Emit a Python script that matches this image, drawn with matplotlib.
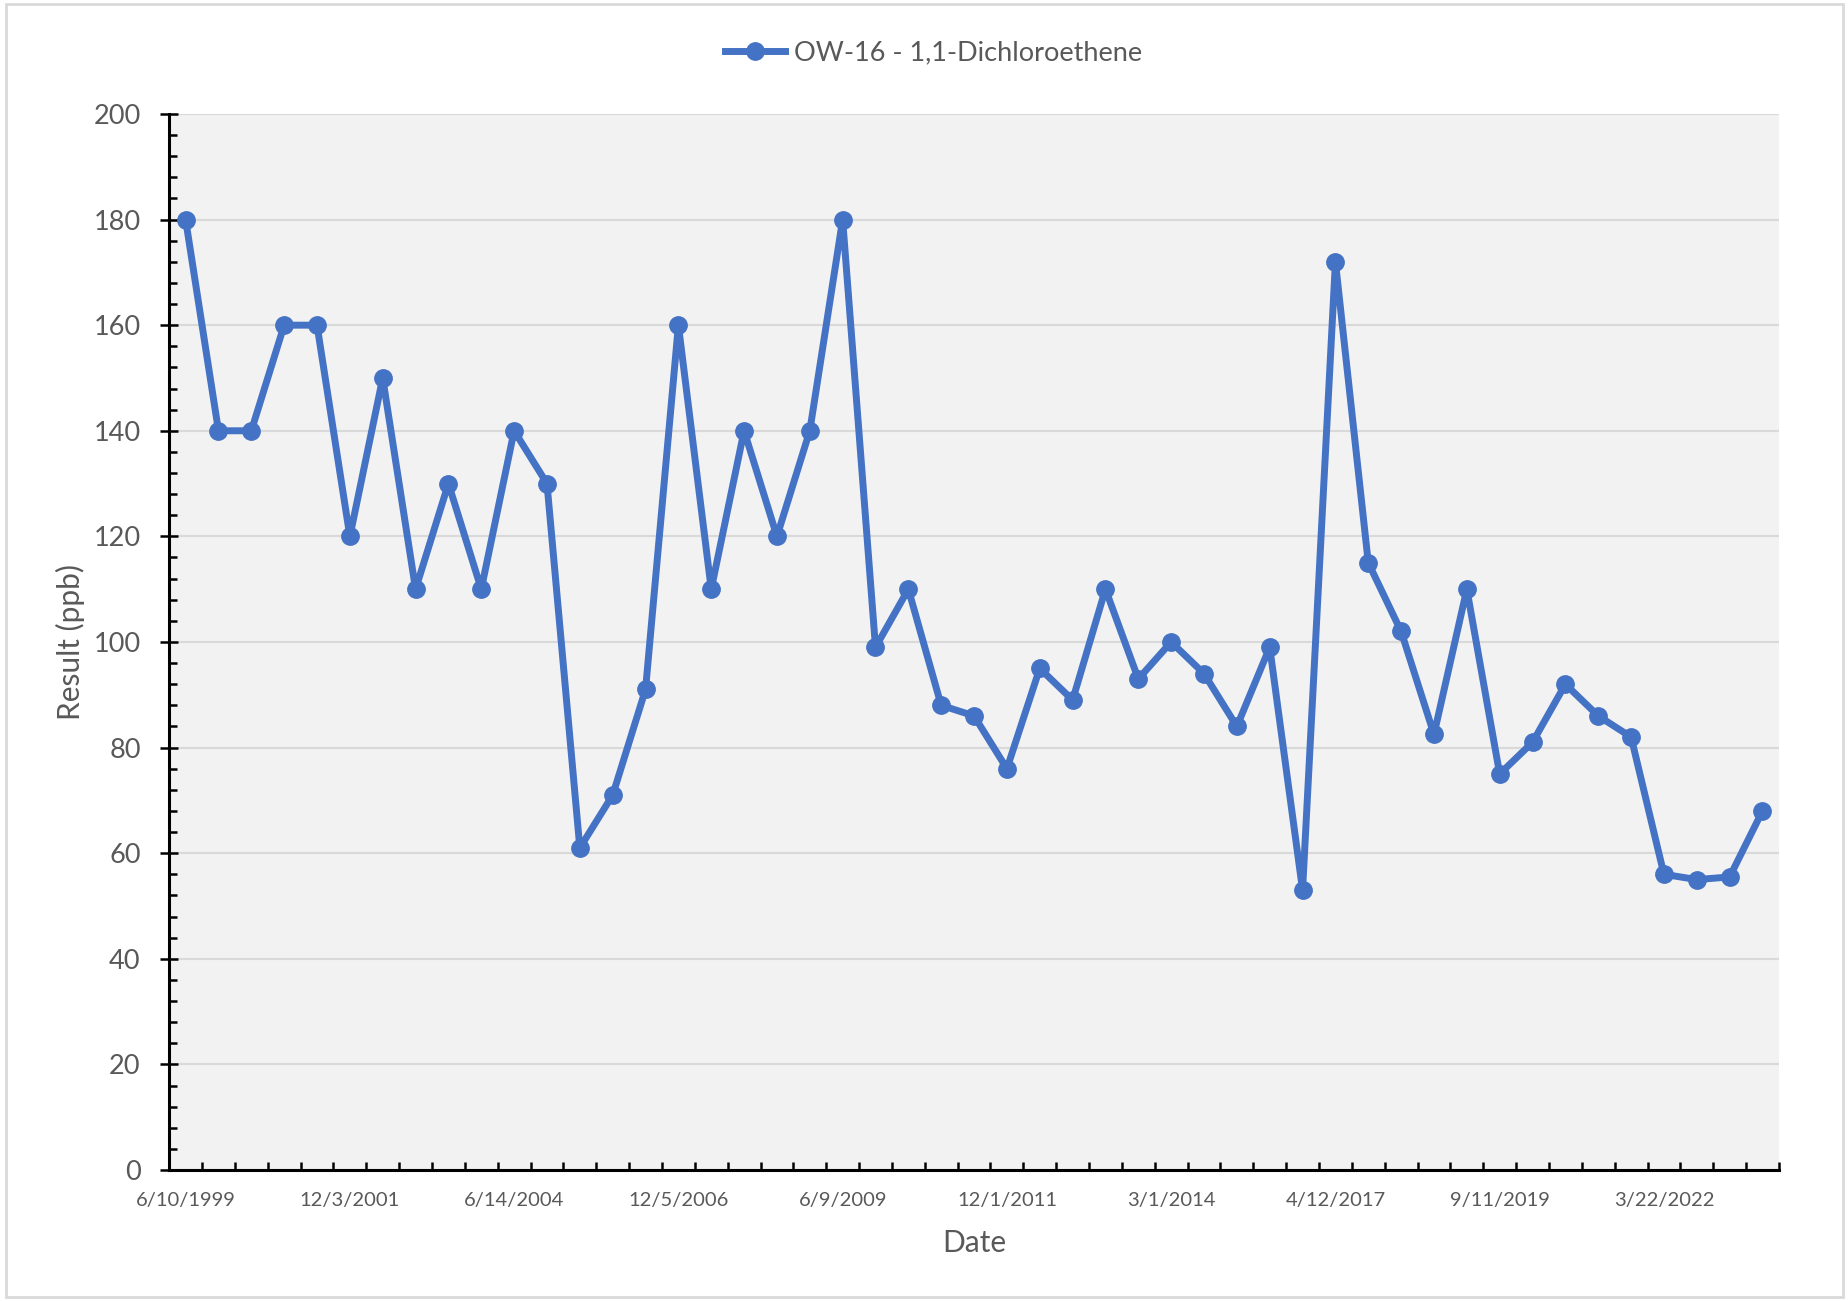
import numpy as np
import matplotlib
import matplotlib.pyplot as plt
from matplotlib.ticker import MultipleLocator, FixedLocator, NullFormatter
from matplotlib.patches import Rectangle

matplotlib.use("Agg")

plt.rcParams.update({
    "font.family": ["Lato", "DejaVu Sans"],
    "text.color": "#595959",
    "axes.labelcolor": "#595959",
    "xtick.color": "black",
    "ytick.color": "black",
    "xtick.labelcolor": "#595959",
    "ytick.labelcolor": "#595959",
})

# Sample results (ppb), one per sampling event, equally spaced in Excel category style
results = [180, 140, 140, 160, 160, 120, 150, 110, 130, 110,
           140, 130, 61, 71, 91, 160, 110, 140, 120, 140,
           180, 99, 110, 88, 86, 76, 95, 89, 110, 93,
           100, 94, 84, 99, 53, 172, 115, 102, 82.5, 110,
           75, 81, 92, 86, 82, 56, 55, 55.5, 68]

# Dates shown on the axis (every 5th sample)
tick_labels = ["6/10/1999", "12/3/2001", "6/14/2004", "12/5/2006", "6/9/2009",
               "12/1/2011", "3/1/2014", "4/12/2017", "9/11/2019", "3/22/2022"]
label_step = 5

BLUE = "#4472C4"

fig = plt.figure(figsize=(18.49, 13.01), dpi=100)
ax = fig.add_axes([0.0915, 0.1007, 0.8706, 0.8117])
ax.set_facecolor("#F2F2F2")

x = np.arange(len(results))
ax.plot(x, results, color=BLUE, linewidth=5, marker="o", markersize=12.5,
        label="OW-16 - 1,1-Dichloroethene", solid_joinstyle="round", zorder=3)

ax.set_xlim(-0.5, len(results) - 0.5)
ax.set_ylim(0, 200)

# y axis
ax.yaxis.set_major_locator(MultipleLocator(20))
ax.yaxis.set_minor_locator(MultipleLocator(4))
ax.tick_params(axis="y", which="major", direction="inout", length=13, width=1.8,
               labelsize=19.5, pad=14)
ax.tick_params(axis="y", which="minor", direction="in", length=6, width=1.8)
ax.grid(axis="y", which="major", color="#D9D9D9", linewidth=1.5, zorder=0)
ax.set_axisbelow(True)

# x axis: labels every 5th category, ticks on category boundaries
ax.xaxis.set_major_locator(FixedLocator(x[::label_step]))
ax.set_xticklabels(tick_labels)
ax.xaxis.set_minor_locator(FixedLocator(np.arange(len(results) + 1) - 0.5))
ax.xaxis.set_minor_formatter(NullFormatter())
ax.tick_params(axis="x", which="major", length=0, labelsize=14.5, pad=16)
ax.tick_params(axis="x", which="minor", direction="in", length=6, width=1.8)

for side in ["top", "right"]:
    ax.spines[side].set_visible(False)
for side in ["left", "bottom"]:
    ax.spines[side].set_linewidth(2.2)
    ax.spines[side].set_color("black")

ax.set_xlabel("Date", fontsize=21.5, labelpad=14)
ax.set_ylabel("Result (ppb)", fontsize=21.5, labelpad=6)

fig.legend(loc="upper center", bbox_to_anchor=(0.505, 0.988), frameon=False,
           fontsize=19.5, handlelength=2.2, handletextpad=0.35)

# chart border
fig.patches.append(Rectangle((0.003, 0.003), 0.994, 0.994, transform=fig.transFigure,
                             fill=False, edgecolor="#D9D9D9", linewidth=2))

fig.savefig("out.png", dpi=100)
